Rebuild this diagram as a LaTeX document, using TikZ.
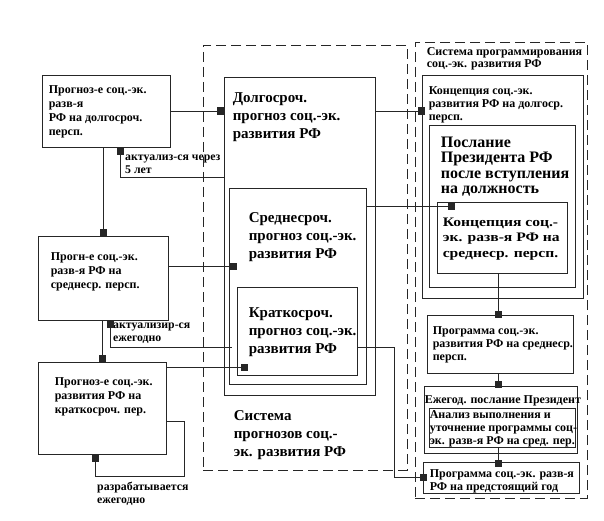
\documentclass[tikz,border=0pt]{standalone}
\usepackage{fontspec}
\setmainfont{Liberation Serif}
\newfontfamily\widefont[FakeStretch=1.2]{Liberation Serif}
\usetikzlibrary{arrows.meta,positioning,calc}

\begin{document}
\begin{tikzpicture}[
  x=1pt, y=-1pt,
  box/.style={draw=black!85, line width=0.8pt},
  sysbox/.style={draw=black!85, line width=0.8pt, dash pattern=on 10pt off 5pt},
  txt/.style={anchor=north west, inner sep=0pt, align=left,
              font=\bfseries\fontsize{12}{14}\selectfont},
  lbl/.style={txt, font=\bfseries\fontsize{11.8}{13.5}\selectfont},
  big/.style={txt, font=\bfseries\fontsize{15}{18}\selectfont},
  rtxt/.style={txt, font=\bfseries\fontsize{12}{13}\selectfont},
  rbig/.style={txt, font=\widefont\bfseries\fontsize{13}{15.5}\selectfont},
  con/.style={draw=black!85, line width=0.8pt},
  tosq/.style={-{Square[length=7pt,width=7pt]}},
  fromsq/.style={{Square[length=7pt,width=7pt]}-}
]
\useasboundingbox (0,0) rectangle (604,521);

\node[sysbox, minimum width=204pt, minimum height=425pt] (sysfc) at (305,257.5) {};
\node[sysbox, minimum width=172pt, minimum height=456pt] (syspr) at (501,270) {};

\node[box, minimum width=128pt, minimum height=72pt] (l1) at (106,111) {};
\node[box, minimum width=130pt, minimum height=84pt] (l2) at (103,278) {};
\node[box, minimum width=128pt, minimum height=92pt] (l3) at (102,408) {};

\node[box, minimum width=151pt, minimum height=318pt] (dolg) at (299.5,236) {};
\node[box, minimum width=137pt, minimum height=196pt] (sred) at (297.5,286) {};
\node[box, minimum width=120pt, minimum height=88pt] (krat) at (297,331) {};

\node[box, minimum width=161pt, minimum height=223pt] (konc) at (502.5,186.5) {};
\node[box, minimum width=146pt, minimum height=162pt] (posl) at (502,206) {};
\node[box, minimum width=130pt, minimum height=71pt] (konc2) at (502,237.5) {};
\node[box, minimum width=146pt, minimum height=58pt] (prog) at (500,344) {};
\node[box, minimum width=153pt, minimum height=67pt] (ezheg) at (500.5,419.5) {};
\node[box, minimum width=146pt, minimum height=39pt] (anal) at (502,427.5) {};
\node[box, minimum width=156pt, minimum height=31pt] (progyr) at (501,477.5) {};

\node[txt] (l1t) at ([shift={(7,11)}]l1.north west) {Прогноз-е соц.-эк.\\разв-я\\РФ на долгосроч.\\персп.};
\node[txt] (l2t) at ([shift={(13,17)}]l2.north west) {Прогн-е соц.-эк.\\разв-я РФ на\\среднеср. персп.};
\node[txt] (l3t) at ([shift={(17,16)}]l3.north west) {Прогноз-е соц.-эк.\\развития РФ на\\краткосроч. пер.};

\node[lbl] (lb1) at ([shift={(19,7)}]l1.south) {актуализ-ся через\\5 лет};
\node[lbl] (lb2) at ([shift={(10,2)}]l2.south) {актуализир-ся\\ежегодно};
\node[lbl] (lb3) at ([shift={(-5,27)}]l3.south) {разрабатывается\\ежегодно};

\node[big] (dolgt) at ([shift={(9,16)}]dolg.north west) {Долгосроч.\\прогноз соц.-эк.\\развития РФ};
\node[big] (sredt) at ([shift={(20,25)}]sred.north west) {Среднесроч.\\прогноз соц.-эк.\\развития РФ};
\node[big] (kratt) at ([shift={(12,21)}]krat.north west) {Краткосроч.\\прогноз соц.-эк.\\развития РФ};
\node[big] (sysfct) at ([shift={(10,15)}]dolg.south west) {Система\\прогнозов соц.-\\эк. развития РФ};

\node[rtxt, font=\bfseries\fontsize{12}{11.5}\selectfont] (sysprt) at ([shift={(12,6)}]syspr.north west) {Система программирования\\соц.-эк. развития РФ};
\node[rtxt] (konct) at ([shift={(7,12)}]konc.north west) {Концепция соц.-эк.\\развития РФ на долгоср.\\персп.};
\node[txt, font=\bfseries\fontsize{16}{15.5}\selectfont] (poslt) at ([shift={(12,12)}]posl.north west) {Послание\\Президента РФ\\после вступления\\на должность};
\node[rbig] (konc2t) at ([shift={(6,16)}]konc2.north west) {Концепция соц.-\\эк. разв-я РФ на\\среднеср. персп.};
\node[rtxt] (progt) at ([shift={(6,12)}]prog.north west) {Программа соц.-эк.\\развития РФ на среднеср.\\персп.};
\node[rtxt] (ezhegt) at ([shift={(1,10)}]ezheg.north west) {Ежегод. послание Президент};
\node[rtxt] (analt) at ([shift={(1,3)}]anal.north west) {Анализ выполнения и\\уточнение программы соц-\\эк. разв-я РФ на сред. пер.};
\node[rtxt] (progyrt) at ([shift={(7,8)}]progyr.north west) {Программа соц.-эк. разв-я\\РФ на предстоящий год};

\draw[con, tosq] (l1.east) -- (l1.east -| dolg.west);
\draw[con, tosq, shorten >=-3.5pt] (dolg.east |- l1.east) -- (konc.west |- l1.east);
\draw[con, fromsq] ([xshift=14pt]l1.south) |- ($(dolg.north west)+(0,101)$);
\draw[con, tosq] (l2.north |- l1.south) -- (l2.north);
\draw[con, tosq, shorten >=-8pt] ($(l2.east)+(0,-12)$) -- ($(l2.east -| sred.west)+(0,-12)$);
\draw[con, fromsq] ([xshift=7pt]l2.south) |- ($(sred.west |- krat.north)+(3,61)$);
\draw[con, tosq] (l3.north |- l2.south) -- (l3.north);
\draw[con, tosq, shorten >=-11pt] ($(l3.north east)+(0,6)$) -- ($(l3.north east -| krat.west)+(0,6)$);
\draw[con, tosq] ($(l3.east)+(0,13)$) -- ++(18,0) |- ($(l3.south)+(-7,22)$) -- ($(l3.south)+(-7,0)$);

\draw[con, tosq, shorten >=-18pt] ($(sred.north east)+(0,19)$) -- ($(sred.north east -| konc2.west)+(0,19)$);
\draw[con, tosq, shorten >=-4pt] ($(krat.north east)+(0,61)$) -- ++(37,0) |- (progyr.west);
\draw[con, tosq, shorten >=-3pt] ($(konc2.south)+(-4,0)$) -- ($(konc2.south |- prog.north)+(-4,0)$);
\draw[con, tosq, shorten >=-2pt] ($(prog.south)+(-2,0)$) -- ($(prog.south |- ezheg.north)+(-2,0)$);
\draw[con, tosq, shorten >=-5pt] ($(anal.south)+(-4,0)$) -- ($(anal.south |- progyr.north)+(-4,0)$);
\end{tikzpicture}
\end{document}
